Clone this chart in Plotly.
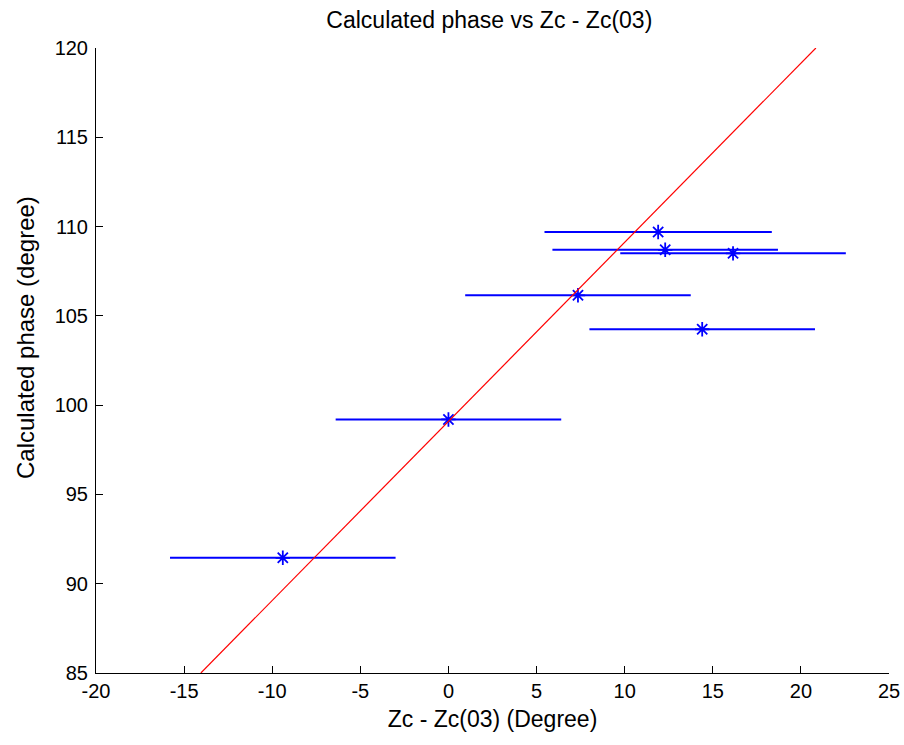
import plotly.graph_objects as go

# Data
zc_diff = [-9.4, 0.0, 7.35, 11.9, 12.3, 16.15, 14.4]
phase = [91.45, 99.2, 106.15, 109.7, 108.7, 108.5, 104.25]
zc_err = [6.4, 6.4, 6.4, 6.45, 6.4, 6.4, 6.4]

fit_x = [-14.05, 20.85]
fit_y = [85.0, 120.0]

x_ticks = [-20, -15, -10, -5, 0, 5, 10, 15, 20, 25]
y_ticks = [85, 90, 95, 100, 105, 110, 115, 120]

FONT = "Liberation Sans, Arial, sans-serif"

fig = go.Figure()

fig.add_trace(go.Scatter(
    x=zc_diff, y=phase, mode="markers",
    marker=dict(symbol="asterisk-open", size=12, color="#0000ff",
                line=dict(color="#0000ff", width=1.8)),
    error_x=dict(type="data", array=zc_err, visible=True,
                 color="#0000ff", thickness=2, width=0),
    showlegend=False, cliponaxis=False,
))

fig.add_trace(go.Scatter(
    x=fit_x, y=fit_y, mode="lines",
    line=dict(color="#ff0000", width=1.2),
    showlegend=False,
))

fig.update_layout(
    width=904, height=745,
    margin=dict(l=96, r=15, t=48, b=72, autoexpand=False),
    paper_bgcolor="white", plot_bgcolor="white",
    font=dict(family=FONT, color="black"),
    title=dict(text="Calculated phase vs Zc - Zc(03)", x=0.496, xref="paper",
               xanchor="center", y=1 - 20 / 745, yanchor="middle", yref="container",
               automargin=False,
               font=dict(size=23, family=FONT, color="black")),
    annotations=[dict(
        text="Calculated phase (degree)", textangle=-90,
        xref="paper", yref="paper", x=-0.0895, y=0.536,
        xanchor="center", yanchor="middle", showarrow=False,
        font=dict(size=24, family=FONT, color="black"),
    )],
)

fig.update_xaxes(
    range=[-20, 25], tickmode="array", tickvals=x_ticks,
    ticktext=[str(v) for v in x_ticks], automargin=False,
    ticks="inside", ticklen=7, tickwidth=1, tickcolor="black",
    showline=True, linecolor="black", linewidth=1, mirror=False,
    showgrid=False, zeroline=False,
    tickfont=dict(size=20, family=FONT, color="black"),
    title=dict(text="Zc - Zc(03) (Degree)", standoff=9,
               font=dict(size=23, family=FONT, color="black")),
)

fig.update_yaxes(
    range=[85, 120], tickmode="array", tickvals=y_ticks,
    ticktext=[str(v) for v in y_ticks], automargin=False,
    ticks="inside", ticklen=7, tickwidth=1, tickcolor="black",
    showline=True, linecolor="black", linewidth=1, mirror=False,
    showgrid=False, zeroline=False, ticklabelstandoff=3,
    tickfont=dict(size=20, family=FONT, color="black"),
)

fig.write_html(
    "out.html",
    config={"displayModeBar": False},
    post_script="document.body.style.margin='0';"
                "document.body.style.overflow='hidden';"
                "document.documentElement.style.overflow='hidden';",
)
